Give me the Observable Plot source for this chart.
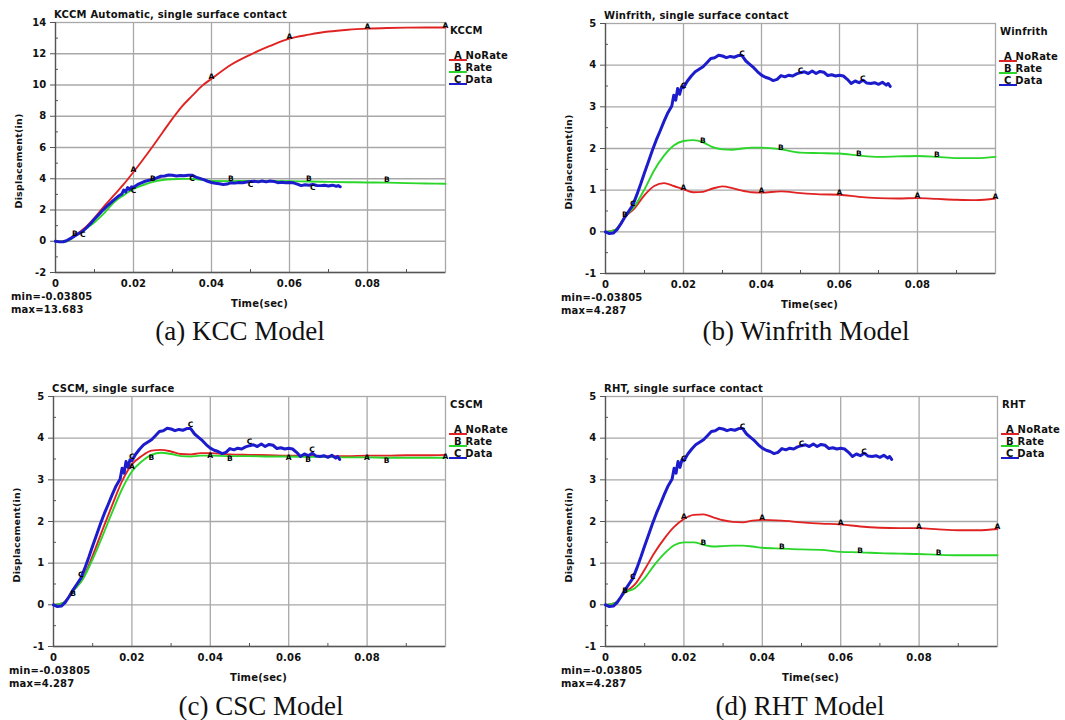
<!DOCTYPE html>
<html><head><meta charset="utf-8">
<script src="https://cdn.jsdelivr.net/npm/d3@7"></script>
<script src="https://cdn.jsdelivr.net/npm/@observablehq/plot@0.6"></script>
<style>
body{margin:0;background:#fff;}
#root{position:relative;width:1065px;height:720px;overflow:hidden;background:#fff;font-family:'DejaVu Sans',sans-serif;font-weight:bold;color:#111;}
.panel{position:absolute;}
.panel svg{position:absolute;left:0;top:0;max-width:none;}
.t{position:absolute;white-space:nowrap;font-size:10px;line-height:12px;letter-spacing:0.2px;transform:translateY(-50%);}
.ylab{position:absolute;white-space:nowrap;font-size:9.5px;line-height:12px;letter-spacing:0.2px;transform:translate(-50%,-50%) rotate(-90deg);}
.leg{position:absolute;white-space:nowrap;font-size:10px;line-height:12px;letter-spacing:0.2px;font-weight:bold;}
.legline{position:absolute;height:1.6px;}
.cap{position:absolute;white-space:nowrap;font-family:'Liberation Serif','Times New Roman',serif;font-weight:normal;font-size:27px;line-height:30px;color:#111;transform:translate(-50%,-50%);}
</style></head><body><div id="root"></div>
<script>
// ---------- data ----------
const xTicks = [0, 0.02, 0.04, 0.06, 0.08];
const xMinor = [0.01, 0.03, 0.05, 0.07, 0.09];
const yTicksKCC = [-2, 0, 2, 4, 6, 8, 10, 12, 14];
const yMinorKCC = [-1, 1, 3, 5, 7, 9, 11, 13];
const yTicks = [-1, 0, 1, 2, 3, 4, 5];
const yMinor = [-0.5, 0.5, 1.5, 2.5, 3.5, 4.5];

const seriesNames = ["A NoRate", "B Rate", "C Data"];
const seriesLetters = ["A", "B", "C"];
const seriesColors = ["#e02222", "#2ad62a", "#1c1ccc"];

const markTimesA = [0.02, 0.04, 0.06, 0.08, 0.1];
const markTimesB = [0.005, 0.025, 0.045, 0.065, 0.085];
const markTimesC = [0.007, 0.02, 0.035, 0.05, 0.066];

const tModel = [0,0.0025,0.005,0.0075,0.01,0.0125,0.015,0.0175,0.02,0.0225,0.025,0.0275,0.03,0.0325,0.035,0.0375,0.04,0.045,0.05,0.055,0.06,0.065,0.07,0.075,0.08,0.085,0.09,0.095,0.1];

const kccNoRate = [0,-0.02,0.38,0.85,1.5,2.25,2.95,3.65,4.43,5.25,6.1,6.98,7.85,8.65,9.3,9.93,10.4,11.3,11.95,12.5,12.97,13.22,13.42,13.54,13.61,13.65,13.67,13.68,13.68];
const kccRate   = [0,-0.02,0.33,0.75,1.22,1.8,2.5,2.95,3.35,3.6,3.8,3.92,3.97,3.99,3.99,3.93,3.86,3.85,3.86,3.86,3.85,3.82,3.8,3.78,3.76,3.75,3.72,3.7,3.68];
const winNoRate = [0,0.05,0.36,0.57,0.88,1.1,1.17,1.1,1.02,0.95,0.96,1.04,1.09,1.05,0.99,0.95,0.94,0.97,0.93,0.9,0.89,0.84,0.81,0.8,0.81,0.79,0.77,0.76,0.8];
const winRate   = [0,0.05,0.36,0.62,1.02,1.48,1.83,2.07,2.18,2.2,2.15,2.03,1.98,1.97,2.0,2.02,2.02,1.98,1.9,1.89,1.88,1.83,1.8,1.81,1.82,1.8,1.77,1.77,1.8];
const cscNoRate = [0,0.05,0.34,0.63,1.18,1.8,2.4,2.97,3.37,3.57,3.7,3.72,3.68,3.62,3.61,3.64,3.64,3.61,3.6,3.59,3.58,3.58,3.57,3.57,3.58,3.58,3.59,3.59,3.6];
const cscRate   = [0,0.05,0.33,0.62,1.1,1.65,2.23,2.78,3.2,3.44,3.6,3.65,3.62,3.57,3.56,3.58,3.58,3.57,3.57,3.56,3.56,3.55,3.55,3.54,3.54,3.53,3.53,3.53,3.53];
const rhtNoRate = [0,0.05,0.3,0.49,0.85,1.25,1.59,1.87,2.06,2.16,2.17,2.1,2.03,1.99,1.98,2.02,2.04,2.02,1.98,1.95,1.93,1.88,1.85,1.84,1.84,1.81,1.79,1.79,1.82];
const rhtRate   = [0,0.05,0.3,0.4,0.64,0.96,1.23,1.43,1.5,1.5,1.44,1.4,1.41,1.42,1.42,1.4,1.37,1.35,1.33,1.32,1.27,1.26,1.24,1.23,1.22,1.2,1.19,1.19,1.19];

const tData = [0,0.001,0.002,0.003,0.004,0.005,0.006,0.007,0.008,0.009,0.01,0.011,0.012,0.013,0.014,0.015,0.016,0.017,0.0175,0.018,0.0185,0.019,0.0195,0.02,0.021,0.022,0.023,0.024,0.025,0.026,0.027,0.028,0.029,0.03,0.031,0.032,0.033,0.034,0.035,0.036,0.037,0.038,0.039,0.04,0.041,0.042,0.043,0.044,0.045,0.046,0.047,0.048,0.049,0.05,0.051,0.052,0.053,0.054,0.055,0.056,0.057,0.058,0.059,0.06,0.061,0.062,0.063,0.064,0.065,0.066,0.067,0.068,0.069,0.07,0.071,0.072,0.0725,0.073];
const dData = [0,-0.04,-0.03,0.06,0.2,0.36,0.5,0.64,0.88,1.14,1.42,1.68,1.95,2.2,2.42,2.65,2.86,3.02,3.28,3.16,3.44,3.3,3.48,3.46,3.62,3.74,3.84,3.9,3.96,4.06,4.16,4.18,4.24,4.22,4.18,4.21,4.19,4.23,4.23,4.1,4.02,3.94,3.84,3.76,3.71,3.68,3.63,3.66,3.75,3.72,3.76,3.74,3.79,3.82,3.84,3.8,3.86,3.8,3.85,3.83,3.75,3.77,3.74,3.76,3.74,3.66,3.56,3.62,3.58,3.64,3.57,3.56,3.58,3.54,3.59,3.52,3.56,3.49];

// ---------- panels ----------
const panels = [
  {left:0, top:0, w:530, h:290, L:55, R:445, T:22, B:272, yDomain:[-2,14], yT:yTicksKCC, yM:yMinorKCC,
   title:"KCCM Automatic, single surface contact", model:"KCCM", min:"min=-0.03805", max:"max=13.683",
   caption:"(a) KCC Model", capX:240, capY:331, a:kccNoRate, b:kccRate, mdy:[-2, -3, 3]},
  {left:530, top:0, w:535, h:290, L:75, R:465, T:23, B:273, yDomain:[-1,5], yT:yTicks, yM:yMinor,
   title:"Winfrith, single surface contact", model:"Winfrith", min:"min=-0.03805", max:"max=4.287",
   caption:"(b) Winfrith Model", capX:276, capY:331, a:winNoRate, b:winRate, mdy:[-2, -2, -2]},
  {left:0, top:380, w:530, h:290, L:53, R:445, T:16, B:266, yDomain:[-1,5], yT:yTicks, yM:yMinor,
   title:"CSCM, single surface", model:"CSCM", min:"min=-0.03805", max:"max=4.287",
   caption:"(c) CSC Model", capX:261, capY:326, a:cscNoRate, b:cscRate, mdy:[2, 3, -4]},
  {left:530, top:380, w:535, h:290, L:75, R:467, T:16, B:266, yDomain:[-1,5], yT:yTicks, yM:yMinor,
   title:"RHT, single surface contact", model:"RHT", min:"min=-0.03805", max:"max=4.287",
   caption:"(d) RHT Model", capX:270, capY:326, a:rhtNoRate, b:rhtRate, mdy:[-2, -2, -2]}
];

function interp(ts, vs, t) {
  const i = d3.bisectLeft(ts, t);
  if (i <= 0) return vs[0];
  if (i >= ts.length) return vs[vs.length - 1];
  if (ts[i] === t) return vs[i];
  const t0 = ts[i - 1], t1 = ts[i];
  return vs[i - 1] + (vs[i] - vs[i - 1]) * (t - t0) / (t1 - t0);
}
const rows = (ts, vs) => ts.map((t, i) => ({t, v: vs[i]}));
const markRows = (times, ts, vs) => times.map(t => ({t, v: interp(ts, vs, t)}));

const root = document.getElementById("root");
function addDiv(parent, cls, text, css) {
  const d = document.createElement("div");
  d.className = cls;
  if (text != null) d.textContent = text;
  Object.assign(d.style, css);
  parent.appendChild(d);
  return d;
}

const gridStyle = {stroke: "#a8a8a8", strokeOpacity: 1, strokeWidth: 1.3};

for (const p of panels) {
  const div = addDiv(root, "panel", null, {left: p.left + "px", top: p.top + "px", width: p.w + "px", height: (p.h + 60) + "px"});
  const seriesList = [rows(tModel, p.a), rows(tModel, p.b), rows(tData, dData)];
  const markerSets = [markRows(markTimesA, tModel, p.a), markRows(markTimesB, tModel, p.b), markRows(markTimesC, tData, dData)];
  const marks = [
    Plot.gridY(p.yT.slice(1, -1), gridStyle),
    Plot.gridX(xTicks.slice(1), gridStyle),
    Plot.frame({stroke: "#a8a8a8", strokeWidth: 1.3}),
    Plot.axisY(p.yT, {tickSize: 5, tickPadding: 4, tickFormat: d => String(d), stroke: "#555", label: null, fontSize: 10}),
    Plot.axisY(p.yM, {tickSize: 3, dx: 3, fill: "none", stroke: "#555", label: null}),
    Plot.axisX(xTicks, {tickSize: 0, tickPadding: 7, tickFormat: d => String(d), label: null, fontSize: 10}),
    Plot.axisX(xMinor, {tickSize: 3, dy: -3, fill: "none", stroke: "#555", label: null}),
    Plot.ruleX([0], {stroke: "#555", strokeWidth: 1.3}),
    Plot.ruleY([p.yDomain[0]], {stroke: "#555", strokeWidth: 1.3}),
    Plot.line(seriesList[0], {x: "t", y: "v", stroke: seriesColors[0], strokeWidth: 1.9, curve: "monotone-x"}),
    Plot.line(seriesList[1], {x: "t", y: "v", stroke: seriesColors[1], strokeWidth: 1.9, curve: "monotone-x"}),
    Plot.line(seriesList[2], {x: "t", y: "v", stroke: seriesColors[2], strokeWidth: 3, curve: "linear"}),
    ...markerSets.map((m, i) => Plot.text(m, {x: "t", y: "v", text: () => seriesLetters[i], fontSize: 7.5, fontWeight: "bold", fill: "#000", dy: p.mdy[i]}))
  ];
  const svg = Plot.plot({
    width: p.w, height: p.h,
    marginLeft: p.L, marginRight: p.w - p.R, marginTop: p.T, marginBottom: p.h - p.B,
    x: {domain: [0, 0.1], label: null},
    y: {domain: p.yDomain, label: null},
    style: "font-family:'DejaVu Sans',sans-serif;font-weight:bold;font-size:10px;letter-spacing:0.2px;background:transparent;color:#111;overflow:visible;",
    marks
  });
  div.appendChild(svg);

  // texts
  addDiv(div, "t", p.title, {left: (p.L - 1) + "px", top: (p.T - 7) + "px"});
  addDiv(div, "t", p.model, {left: (p.R + 5) + "px", top: (p.T + 9) + "px"});
  seriesNames.forEach((name, i) => {
    const base = Math.round(p.T + 37 + i * 12.2);
    addDiv(div, "legline", null, {left: (p.R + 4) + "px", top: base + "px", width: "18px", background: seriesColors[i]});
    addDiv(div, "leg", name, {left: (p.R + 9) + "px", top: (base - 9) + "px"});
  });
  addDiv(div, "t", "Time(sec)", {left: ((p.L + p.R) / 2 + 9.5) + "px", top: (p.B + 31.5) + "px", transform: "translate(-50%,-50%)"});
  addDiv(div, "t", p.min, {left: (p.L - 44) + "px", top: (p.B + 25) + "px"});
  addDiv(div, "t", p.max, {left: (p.L - 44) + "px", top: (p.B + 38) + "px"});
  addDiv(div, "ylab", "Displacement(in)", {left: (p.L - 36) + "px", top: ((p.T + p.B) / 2 + 14) + "px"});
  addDiv(div, "cap", p.caption, {left: p.capX + "px", top: p.capY + "px"});
}
</script></body></html>
